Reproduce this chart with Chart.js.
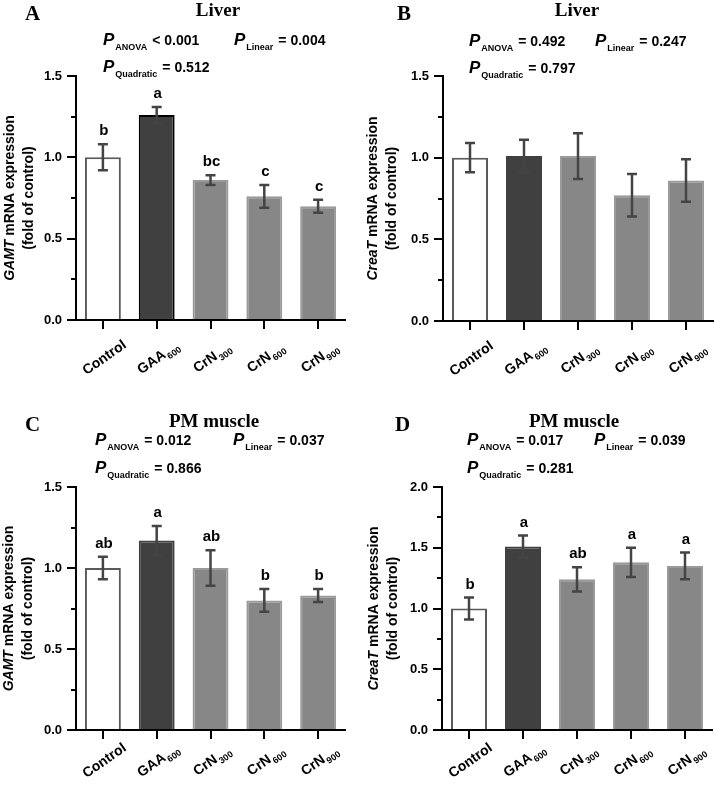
<!DOCTYPE html>
<html>
<head>
<meta charset="utf-8">
<script src="https://cdn.jsdelivr.net/npm/chart.js@4.4.0/dist/chart.umd.min.js"></script>
<style>
body { margin: 0; background: #fff; }
#wrap { position: relative; width: 714px; height: 785px; }
canvas { position: absolute; }
</style>
</head>
<body>
<div id="wrap">
  <canvas id="panelA" width="357" height="392" style="left:0;top:0"></canvas>
  <canvas id="panelB" width="357" height="392" style="left:357px;top:0"></canvas>
  <canvas id="panelC" width="357" height="393" style="left:0;top:392px"></canvas>
  <canvas id="panelD" width="357" height="393" style="left:357px;top:392px"></canvas>
</div>
<script>
// groups on the x axis
var groups = ['Control', 'GAA', 'CrN', 'CrN', 'CrN'];
var doses = ['', '600', '300', '600', '900'];

// A: liver GAMT
var liverGamt = [1.00, 1.26, 0.86, 0.76, 0.70];
var liverGamtSem = [0.08, 0.05, 0.03, 0.07, 0.04];
var liverGamtLetters = ['b', 'a', 'bc', 'c', 'c'];
var liverGamtP = ['< 0.001', '= 0.004', '= 0.512'];

// B: liver CreaT
var liverCreat = [1.00, 1.01, 1.01, 0.77, 0.86];
var liverCreatSem = [0.09, 0.10, 0.14, 0.13, 0.13];
var liverCreatLetters = ['', '', '', '', ''];
var liverCreatP = ['= 0.492', '= 0.247', '= 0.797'];

// C: PM muscle GAMT
var muscleGamt = [1.00, 1.17, 1.00, 0.80, 0.83];
var muscleGamtSem = [0.07, 0.09, 0.11, 0.07, 0.04];
var muscleGamtLetters = ['ab', 'a', 'ab', 'b', 'b'];
var muscleGamtP = ['= 0.012', '= 0.037', '= 0.866'];

// D: PM muscle CreaT
var muscleCreat = [1.00, 1.51, 1.24, 1.38, 1.35];
var muscleCreatSem = [0.09, 0.09, 0.10, 0.12, 0.11];
var muscleCreatLetters = ['b', 'a', 'ab', 'a', 'a'];
var muscleCreatP = ['= 0.017', '= 0.039', '= 0.281'];

var sans = '"Liberation Sans", Arial, sans-serif';
var serif = '"Liberation Serif", "Times New Roman", serif';
var barFill = ['#ffffff', '#404040', '#878787', '#878787', '#878787'];
var barLine = ['#5a5a5a', '#404040', '#9a9a9a', '#9a9a9a', '#9a9a9a'];

function isMajor(v) {
  return Math.abs(v * 2 - Math.round(v * 2)) < 1e-6;
}

function drawCatLabel(ctx, x, y, main, sub) {
  ctx.save();
  ctx.translate(x, y);
  ctx.rotate(-35 * Math.PI / 180);
  ctx.fillStyle = '#000';
  ctx.font = 'bold 14px ' + sans;
  var w1 = ctx.measureText(main).width;
  ctx.font = 'bold 9px ' + sans;
  var w2 = sub ? ctx.measureText(sub).width + 1 : 0;
  var x0 = -(w1 + w2) / 2;
  ctx.font = 'bold 14px ' + sans;
  ctx.fillText(main, x0, 5);
  if (sub) {
    ctx.font = 'bold 9px ' + sans;
    ctx.fillText(sub, x0 + w1 + 1, 9);
  }
  ctx.restore();
}

function drawP(ctx, x, y, sub, rest) {
  ctx.fillStyle = '#000';
  ctx.font = 'italic bold 17px ' + sans;
  ctx.fillText('P', x, y);
  var w = ctx.measureText('P').width + 1;
  ctx.font = 'bold 9px ' + sans;
  ctx.fillText(sub, x + w, y + 5);
  w += ctx.measureText(sub).width + 5;
  ctx.font = 'bold 14px ' + sans;
  ctx.fillText(rest, x + w, y);
}

function makePanel(id, p) {
  var labels = groups.map(function(g, i) { return g + doses[i]; });
  var lines = barLine.slice();
  if (p.gaaLine) lines[1] = p.gaaLine;

  var extras = {
    id: 'extras',
    afterDatasetsDraw: function(chart) {
      var ctx = chart.ctx;
      var ys = chart.scales.y;
      var xs = chart.scales.x;
      var area = chart.chartArea;
      var meta = chart.getDatasetMeta(0);
      ctx.save();

      // minor ticks
      ctx.strokeStyle = '#000';
      ctx.lineWidth = 2;
      ys.ticks.forEach(function(t) {
        if (isMajor(t.value)) return;
        var py = Math.round(ys.getPixelForValue(t.value));
        ctx.beginPath();
        ctx.moveTo(area.left - 5, py);
        ctx.lineTo(area.left, py);
        ctx.stroke();
      });

      // error bars and letters
      p.values.forEach(function(v, i) {
        var x = meta.data[i].x;
        var yt = ys.getPixelForValue(v + p.sem[i]);
        var yb = ys.getPixelForValue(v - p.sem[i]);
        ctx.strokeStyle = '#444';
        ctx.lineWidth = 2.5;
        ctx.beginPath();
        ctx.moveTo(x, yt); ctx.lineTo(x, yb);
        ctx.moveTo(x - 5, yt); ctx.lineTo(x + 5, yt);
        ctx.moveTo(x - 5, yb); ctx.lineTo(x + 5, yb);
        ctx.stroke();
        if (p.letters[i]) {
          ctx.fillStyle = '#000';
          ctx.font = 'bold 15px ' + sans;
          ctx.textAlign = 'center';
          ctx.fillText(p.letters[i], x + 1, yt - 9);
          ctx.textAlign = 'left';
        }
      });

      // category labels
      labels.forEach(function(l, i) {
        var x = xs.getPixelForValue(i);
        drawCatLabel(ctx, x + 1, area.bottom + p.labelDrop, groups[i], doses[i]);
      });

      // y axis title
      var midY = (area.top + area.bottom) / 2;
      ctx.save();
      ctx.translate(p.yTitleX[0], midY);
      ctx.rotate(-Math.PI / 2);
      ctx.fillStyle = '#000';
      ctx.textBaseline = 'middle';
      ctx.font = 'italic bold 14px ' + sans;
      var wg = ctx.measureText(p.gene).width;
      ctx.font = 'bold 14px ' + sans;
      var wr = ctx.measureText(' mRNA expression').width;
      ctx.font = 'italic bold 14px ' + sans;
      ctx.fillText(p.gene, -(wg + wr) / 2, 0);
      ctx.font = 'bold 14px ' + sans;
      ctx.fillText(' mRNA expression', -(wg + wr) / 2 + wg, 0);
      ctx.restore();
      ctx.save();
      ctx.translate(p.yTitleX[1], midY);
      ctx.rotate(-Math.PI / 2);
      ctx.fillStyle = '#000';
      ctx.textBaseline = 'middle';
      ctx.textAlign = 'center';
      ctx.font = 'bold 14px ' + sans;
      ctx.fillText('(fold of control)', 0, 0);
      ctx.restore();

      // panel letter and title
      ctx.fillStyle = '#000';
      ctx.font = 'bold 21px ' + serif;
      ctx.fillText(p.letter, p.letterX, p.titleY + 4);
      ctx.font = 'bold 19px ' + serif;
      ctx.textAlign = 'center';
      ctx.fillText(p.title, p.titleX, p.titleY);
      ctx.textAlign = 'left';

      // P values
      drawP(ctx, p.pX[0], p.pY[0], 'ANOVA', p.pvals[0]);
      drawP(ctx, p.pX[1], p.pY[0], 'Linear', p.pvals[1]);
      drawP(ctx, p.pX[0], p.pY[1], 'Quadratic', p.pvals[2]);

      ctx.restore();
    }
  };

  return new Chart(document.getElementById(id).getContext('2d'), {
    type: 'bar',
    data: {
      labels: labels,
      datasets: [{
        data: p.values,
        backgroundColor: barFill,
        borderColor: lines,
        borderWidth: 2,
        categoryPercentage: 1,
        barPercentage: 0.667
      }]
    },
    options: {
      responsive: false,
      animation: false,
      layout: { padding: { left: 0, top: p.top, right: p.right, bottom: 0 } },
      plugins: { legend: { display: false }, tooltip: { enabled: false } },
      scales: {
        x: {
          offset: true,
          afterFit: function(s) { s.height = p.xHeight; },
          ticks: { display: false },
          grid: { offset: false, drawOnChartArea: false, tickLength: 9, color: '#000', lineWidth: 2 },
          border: { color: '#000', width: 2 }
        },
        y: {
          min: 0,
          max: p.yMax,
          afterFit: function(s) { s.width = p.left; },
          ticks: {
            stepSize: 0.25,
            padding: 5,
            color: '#000',
            font: { family: sans, size: 13, weight: 'bold' },
            callback: function(v) { return isMajor(v) ? v.toFixed(1) : ''; }
          },
          grid: {
            drawOnChartArea: false,
            tickLength: 9,
            lineWidth: 2,
            color: function(c) {
              return (c.tick && !isMajor(c.tick.value)) ? 'rgba(0,0,0,0)' : '#000';
            }
          },
          border: { color: '#000', width: 2 }
        }
      }
    },
    plugins: [extras]
  });
}

makePanel('panelA', {
  values: liverGamt, sem: liverGamtSem, letters: liverGamtLetters, pvals: liverGamtP,
  gene: 'GAMT', title: 'Liver', letter: 'A', gaaLine: '#000',
  yMax: 1.5, left: 76, top: 76, right: 12, xHeight: 72, labelDrop: 37,
  yTitleX: [10, 29], titleX: 218, titleY: 16, letterX: 25,
  pX: [103, 234], pY: [45, 72]
});

makePanel('panelB', {
  values: liverCreat, sem: liverCreatSem, letters: liverCreatLetters, pvals: liverCreatP,
  gene: 'CreaT', title: 'Liver', letter: 'B',
  yMax: 1.5, left: 86, top: 76, right: 1, xHeight: 71, labelDrop: 37,
  yTitleX: [16, 35], titleX: 220, titleY: 16, letterX: 40,
  pX: [112, 238], pY: [46, 73]
});

makePanel('panelC', {
  values: muscleGamt, sem: muscleGamtSem, letters: muscleGamtLetters, pvals: muscleGamtP,
  gene: 'GAMT', title: 'PM muscle', letter: 'C',
  yMax: 1.5, left: 76, top: 95, right: 12, xHeight: 55, labelDrop: 30,
  yTitleX: [9, 28], titleX: 214, titleY: 35, letterX: 25,
  pX: [95, 233], pY: [53, 81]
});

makePanel('panelD', {
  values: muscleCreat, sem: muscleCreatSem, letters: muscleCreatLetters, pvals: muscleCreatP,
  gene: 'CreaT', title: 'PM muscle', letter: 'D',
  yMax: 2.0, left: 85, top: 95, right: 2, xHeight: 55, labelDrop: 30,
  yTitleX: [17, 36], titleX: 217, titleY: 35, letterX: 38,
  pX: [110, 237], pY: [53, 81]
});
</script>
</body>
</html>
